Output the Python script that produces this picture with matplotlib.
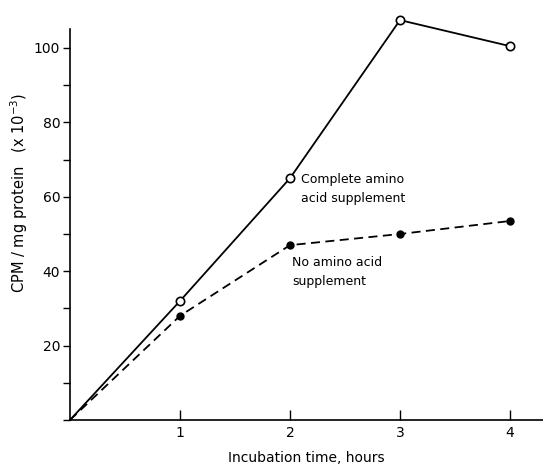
import matplotlib
matplotlib.use("Agg")
import matplotlib.pyplot as plt
from matplotlib.ticker import MultipleLocator

hours = [0, 1, 2, 3, 4]
complete_aa = [0, 32, 65, 107.5, 100.5]
no_aa = [0, 28, 47, 50, 53.5]
x_ticks = [1, 2, 3, 4]
y_ticks = [20, 40, 60, 80, 100]


def main() -> None:
    fig = plt.figure(figsize=(5.43, 4.70), dpi=100)
    ax = fig.add_axes([70 / 543, 50 / 470, 473 / 543, 390.6 / 470])

    # no marker drawn at the origin
    ax.plot(hours, complete_aa, color="black", lw=1.3, marker="o", ms=6,
            mfc="white", mec="black", mew=1.2, markevery=[1, 2, 3, 4],
            clip_on=False, zorder=3)
    ax.plot(hours, no_aa, color="black", lw=1.3, ls=(0, (5, 3)), marker="o",
            ms=5, mfc="black", mec="black", markevery=[1, 2, 3, 4],
            clip_on=False, zorder=3)

    ax.set_xlim(0, 4.3)
    ax.set_ylim(0, 105)
    ax.set_xticks(x_ticks)
    ax.set_yticks(y_ticks)
    ax.yaxis.set_minor_locator(MultipleLocator(10))
    ax.tick_params(axis="x", direction="in", length=7, width=1, labelsize=10, pad=4)
    ax.tick_params(axis="y", which="both", direction="out", length=5, width=1,
                   labelsize=10, pad=2)
    ax.spines["top"].set_visible(False)
    ax.spines["right"].set_visible(False)
    for s in ("left", "bottom"):
        ax.spines[s].set_linewidth(1.2)

    ax.text(2.1, 66.5, "Complete amino\nacid supplement", fontsize=9,
            va="top", ha="left", linespacing=1.6)
    ax.text(2.02, 44, "No amino acid\nsupplement", fontsize=9,
            va="top", ha="left", linespacing=1.6)

    ax.set_xlabel("Incubation time, hours", fontsize=10, labelpad=8)
    ax.set_ylabel("CPM / mg protein   (x 10$^{-3}$)", fontsize=10.5)
    ax.yaxis.set_label_coords(-0.085, 0.58)

    fig.savefig("out.png", dpi=100)
    plt.close(fig)


if __name__ == "__main__":
    main()
